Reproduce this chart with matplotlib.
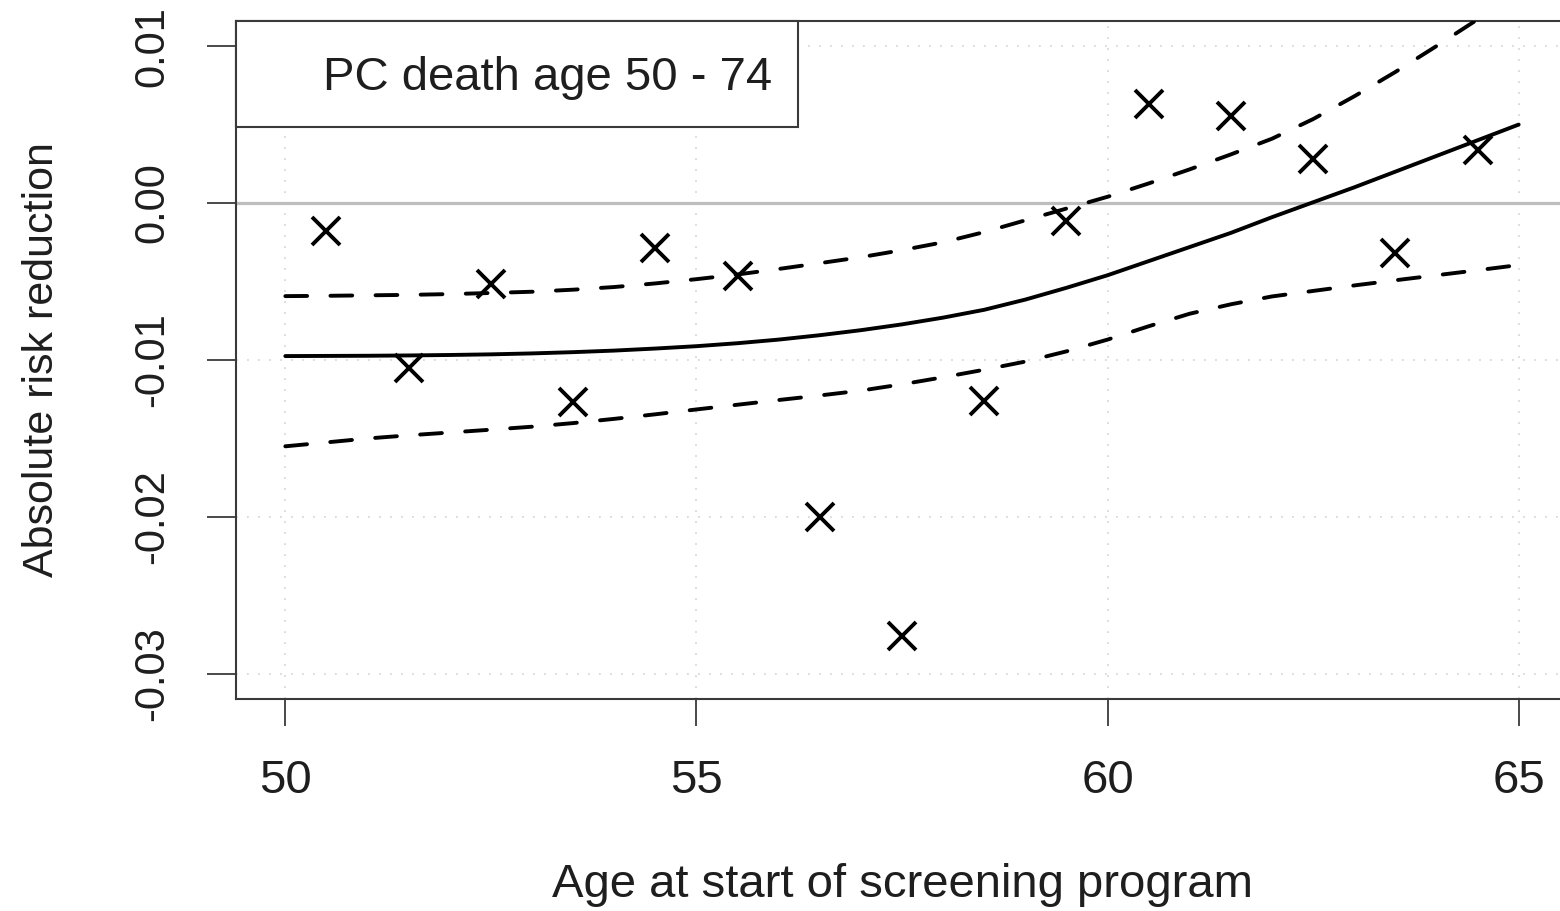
import matplotlib
matplotlib.use('Agg')
import matplotlib.pyplot as plt
from matplotlib.patches import Rectangle

plt.rcParams['font.family'] = ['Liberation Sans', 'DejaVu Sans']

# observed absolute risk reduction per age at start of screening
ages = [50.5, 51.5, 52.5, 53.5, 54.5, 55.5, 56.5, 57.5, 58.5, 59.5,
        60.5, 61.5, 62.5, 63.5, 64.5]
arr_obs = [-0.00176, -0.01053, -0.00516, -0.01270, -0.00285, -0.00465,
           -0.02000, -0.02758, -0.01260, -0.00113, 0.00629, 0.00554,
           0.00280, -0.00321, 0.00338]

# fitted curve and confidence band, read every half year
curve_ages = [50, 50.5, 51, 51.5, 52, 52.5, 53, 53.5, 54, 54.5, 55, 55.5,
              56, 56.5, 57, 57.5, 58, 58.5, 59, 59.5, 60, 60.5, 61, 61.5,
              62, 62.5, 63, 63.5, 64, 64.5, 65]
arr_fit = [-0.00975, -0.00974, -0.00973, -0.00971, -0.00968, -0.00964,
           -0.00958, -0.00950, -0.00940, -0.00927, -0.00912, -0.00893,
           -0.00870, -0.00842, -0.00810, -0.00773, -0.00730, -0.00680,
           -0.00615, -0.00540, -0.00460, -0.00370, -0.00280, -0.00190,
           -0.00090, 0.00005, 0.00100, 0.00200, 0.00300, 0.00400, 0.00500]
arr_upper = [-0.00593, -0.00591, -0.00588, -0.00585, -0.00580, -0.00573,
             -0.00565, -0.00552, -0.00535, -0.00512, -0.00485, -0.00455,
             -0.00420, -0.00383, -0.00345, -0.00300, -0.00250, -0.00185,
             -0.00110, -0.00035, 0.00040, 0.00125, 0.00215, 0.00310,
             0.00410, 0.00535, 0.00680, 0.00835, 0.01000, 0.01170, 0.01350]
arr_lower = [-0.01550, -0.01525, -0.01500, -0.01480, -0.01462, -0.01444,
             -0.01425, -0.01402, -0.01375, -0.01346, -0.01315, -0.01285,
             -0.01255, -0.01226, -0.01195, -0.01155, -0.01110, -0.01062,
             -0.01010, -0.00945, -0.00870, -0.00785, -0.00705, -0.00645,
             -0.00595, -0.00560, -0.00525, -0.00492, -0.00460, -0.00428,
             -0.00395]

x_ticks = [50, 55, 60, 65]
y_ticks = [-0.03, -0.02, -0.01, 0.00, 0.01]
y_tick_labels = ['-0.03', '-0.02', '-0.01', '0.00', '0.01']
legend_text = 'PC death age 50 - 74'
x_label = 'Age at start of screening program'
y_label = 'Absolute risk reduction'

W, H = 1560, 911
axis_col = '#3a3a3a'
text_col = '#1e1e1e'

fig = plt.figure(figsize=(W / 100, H / 100), dpi=100)
ax = fig.add_axes([236 / W, 1 - 699 / H, 1332 / W, 678 / H])
ax.set_xlim(49.4, 65.6)
ax.set_ylim(-0.0316, 0.0116)

ax.grid(True, color='#d3d3d3', lw=1.1, ls=(0, (1.2, 6)), zorder=1)
ax.set_axisbelow(True)
ax.axhline(0, color='#bebebe', lw=2.3, zorder=2)

ax.plot(curve_ages, arr_fit, color='black', lw=2.8, solid_capstyle='round',
        solid_joinstyle='round', zorder=3)
for band in (arr_upper, arr_lower):
    ax.plot(curve_ages, band, color='black', lw=2.8, ls=(0, (5.6, 6.0)),
            dash_capstyle='round', zorder=3)
ax.plot(ages, arr_obs, ls='none', marker='x', ms=20, mew=2.8, color='black', zorder=4)

# legend box in the top left corner
ax.add_patch(Rectangle((0, 1 - 106 / 678), 562 / 1332, 106 / 678, transform=ax.transAxes,
                       facecolor='white', edgecolor=axis_col, lw=1.5, zorder=5, clip_on=False))
ax.text((548 - 236) / 1332, 1 - (90 - 21) / 678, legend_text, transform=ax.transAxes,
        ha='center', va='baseline', fontsize=34, color=text_col, zorder=6)

for side in ['left', 'bottom', 'top']:
    ax.spines[side].set_color(axis_col)
    ax.spines[side].set_linewidth(1.5)
ax.spines['right'].set_visible(False)

ax.set_xticks(x_ticks)
ax.set_xticklabels([str(v) for v in x_ticks])
ax.set_yticks(y_ticks)
ax.set_yticklabels(y_tick_labels, rotation=90, va='center')
ax.tick_params(axis='x', length=19.5, width=1.3, pad=24, labelsize=34,
               color=axis_col, labelcolor=text_col)
ax.tick_params(axis='y', length=21, width=1.3, pad=25, labelsize=30,
               color=axis_col, labelcolor=text_col)

fig.text(902 / W, 1 - 897 / H, x_label, ha='center', va='baseline',
         fontsize=34, color=text_col)
fig.text(53 / W, 1 - 360 / H, y_label, rotation=90, rotation_mode='anchor',
         ha='center', va='baseline', fontsize=31, color=text_col)

fig.savefig('out.png', dpi=100)
